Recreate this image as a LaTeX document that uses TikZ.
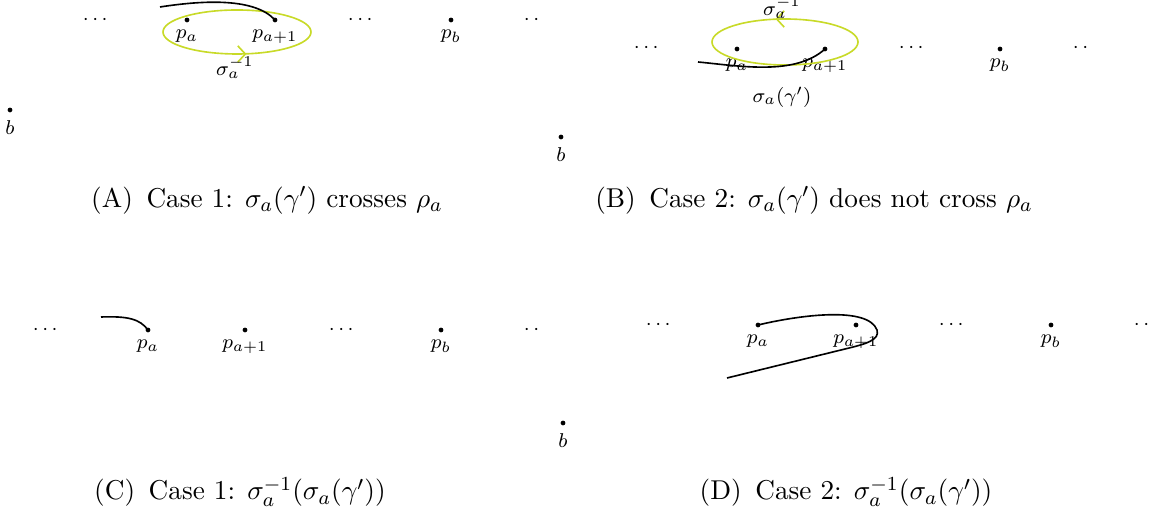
\documentclass[tikz,border=0pt]{standalone}
\usepackage{amsmath}
\usetikzlibrary{arrows.meta, decorations.markings, positioning}
\definecolor{loopcol}{RGB}{200,218,40}

\tikzset{
  puncture/.style={circle, fill=black, inner sep=0pt, minimum size=1.9pt},
  plabel/.style={font=\footnotesize, inner sep=1pt, label distance=1.8pt},
  ellip/.style={font=\footnotesize, inner sep=0pt},
  strand/.style={black, line width=0.65pt},
  twist/.style={loopcol, line width=0.65pt},
  capt/.style={font=\fontsize{10.9pt}{13pt}\selectfont, inner sep=0pt},
  turn/.tip={Straight Barb[length=3pt, width=6.5pt]},
}

\begin{document}
\begin{tikzpicture}[x=0.4pt, y=-0.4pt]
  % one pixel of the layout = one unit, y downwards
  \useasboundingbox (0,0) rectangle (1171,510);

  % --- (A) ---
  \begin{scope}
    \clip (0,0) rectangle (543,170);
    \node[ellip] (A-l) at (97,20) {$\cdots$};
    \node[puncture, label={[plabel]below:$p_a$}] (A-pa) at (187,20) {};
    \node[puncture, label={[plabel]below:$p_{a+1}$}] (A-pb) at (275,20) {};
    \node[ellip] (A-m) at (362,20) {$\cdots$};
    \node[puncture, label={[plabel]below:$p_b$}] (A-pc) at (451,20) {};
    \node[ellip] (A-r) at (538,20) {$\cdots$};
    \node[puncture, label={[plabel]below:$b$}] (A-b) at (10,110) {};
    % half twist loop
    \draw[twist, postaction={decorate}, decoration={markings,
      mark=at position 0.25 with {\arrow{turn[reversed]}}}] (237,32) ellipse [x radius=74, y radius=22];
    \node[ellip] (A-sig) at (235,68) {$\sigma_a^{-1}$};
    \coordinate (A-start) at (160,7);
    \draw[strand] (A-start) .. controls (205,0) and (255,-2) .. (A-pb.center);
  \end{scope}

  % --- (B) ---
  \begin{scope}
    \clip (550,0) rectangle (1092,170);
    \node[ellip] (B-l) at (648,48) {$\cdots$};
    \node[puncture, label={[plabel]below:$p_a$}] (B-pa) at (737,49) {};
    \node[puncture, label={[plabel]below:$p_{a+1}$}] (B-pb) at (825,49) {};
    \node[ellip] (B-m) at (913,48) {$\cdots$};
    \node[puncture, label={[plabel]below:$p_b$}] (B-pc) at (1000,49) {};
    \node[ellip] (B-r) at (1087,48) {$\cdots$};
    \node[puncture, label={[plabel]below:$b$}] (B-b) at (561,137) {};
    \draw[twist, postaction={decorate}, decoration={markings,
      mark=at position 0.75 with {\arrow{turn[reversed]}}}] (785,42) ellipse [x radius=73, y radius=23];
    \node[ellip] (B-sig) at (782,8) {$\sigma_a^{-1}$};
    \node[ellip] (B-gam) at (782,97) {$\sigma_a(\gamma')$};
    \coordinate (B-start) at (698,62);
    \draw[strand] (B-start) .. controls (740,66) and (795,76) .. (B-pb.center);
  \end{scope}

  % --- (C) ---
  \begin{scope}
    \clip (0,280) rectangle (542,460);
    \node[ellip] (C-l) at (47,330) {$\cdots$};
    \node[puncture, label={[plabel]below:$p_a$}] (C-pa) at (148,330) {};
    \node[puncture, label={[plabel]below:$p_{a+1}$}] (C-pb) at (245,330) {};
    \node[ellip] (C-m) at (343,330) {$\cdots$};
    \node[puncture, label={[plabel]below:$p_b$}] (C-pc) at (441,330) {};
    \node[ellip] (C-r) at (538,330) {$\cdots$};
    \coordinate (C-start) at (101,317);
    \draw[strand] (C-start) .. controls (128,316) and (140,319) .. (C-pa.center);
  \end{scope}
  % b of (C) lies past the clip
  \node[puncture, label={[plabel]below:$b$}] (C-b) at (563,423) {};

  % --- (D) ---
  \begin{scope}
    \clip (600,280) rectangle (1152,460);
    \node[ellip] (D-l) at (660,325) {$\cdots$};
    \node[puncture, label={[plabel]below:$p_a$}] (D-pa) at (758,325) {};
    \node[puncture, label={[plabel]below:$p_{a+1}$}] (D-pb) at (856,325) {};
    \node[ellip] (D-m) at (953,325) {$\cdots$};
    \node[puncture, label={[plabel]below:$p_b$}] (D-pc) at (1051,325) {};
    \node[ellip] (D-r) at (1148,325) {$\cdots$};
    \coordinate (D-end) at (727,378);
    \draw[strand] (D-pa.center) .. controls (800,315) and (868,306) .. (877,330)
      .. controls (880,340) and (866,344) .. (845,349) -- (D-end);
  \end{scope}

  % captions
  \node[capt] (capA) at (267,200) {(A)\enspace Case 1: $\sigma_a(\gamma')$ crosses $\rho_a$};
  \node[capt] (capB) at (814,200) {(B)\enspace Case 2: $\sigma_a(\gamma')$ does not cross $\rho_a$};
  \node[capt] (capC) at (240,492) {(C)\enspace Case 1: $\sigma_a^{-1}(\sigma_a(\gamma'))$};
  \node[capt] (capD) at (846,492) {(D)\enspace Case 2: $\sigma_a^{-1}(\sigma_a(\gamma'))$};
\end{tikzpicture}
\end{document}
